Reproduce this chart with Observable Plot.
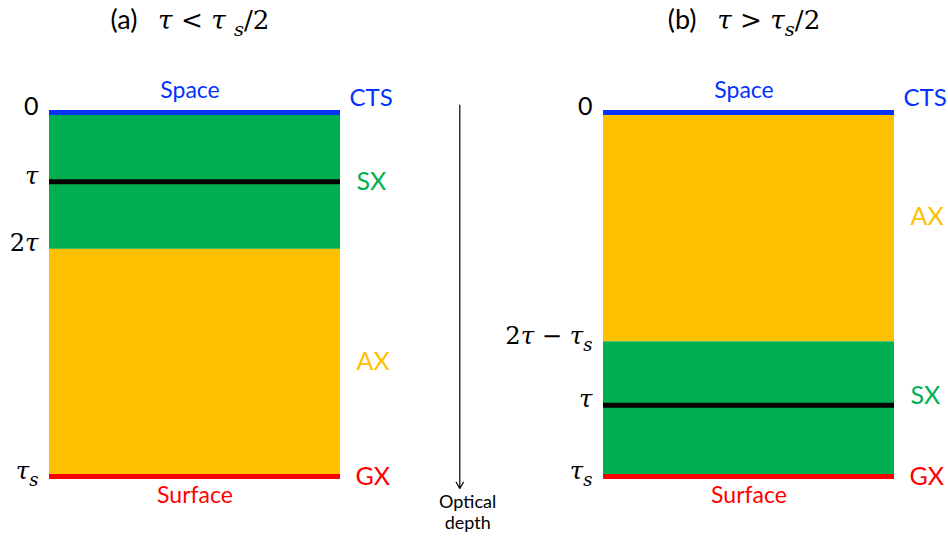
<!DOCTYPE html>
<html>
<head>
<meta charset="utf-8">
<script src="https://cdn.jsdelivr.net/npm/d3@7"></script>
<script src="https://cdn.jsdelivr.net/npm/@observablehq/plot@0.6"></script>
<style>
  body { margin: 0; background: #fff; }
  #chart svg { display: block; }
</style>
</head>
<body>
<div id="chart"></div>
<script>
// Optical depth is scaled so that the surface sits at τs = 1.
// Text between $…$ is set as math; _x makes x a subscript.
const panels = ["a", "b"];
const titles = ["(a)   $τ < τ _s/2$", "(b)   $τ > τ_s/2$"];

// Exchange layers of each column, with the depth of their name
const layerPanel = ["a", "a", "b", "b"];
const layerTop = [0, 0.376, 0, 0.63];
const layerBottom = [0.376, 1, 0.63, 1];
const layerKind = ["SX", "AX", "AX", "SX"];
const layerLabelDepth = [0.19, 0.686, 0.286, 0.78];

// Horizontal levels: top of atmosphere, level τ, surface
const levelPanel = ["a", "a", "a", "b", "b", "b"];
const levelDepth = [0, 0.19, 1, 0, 0.804, 1];
const levelKind = ["top", "tau", "surface", "top", "tau", "surface"];

// Depth labels on the left of each column
const tickPanel = ["a", "a", "a", "a", "b", "b", "b", "b"];
const tickDepth = [0, 0.19, 0.376, 1, 0, 0.63, 0.804, 1];
const tickText = ["0", "$τ$", "$2τ$", "$τ_s$", "0", "$2τ − τ_s$", "$τ$", "$τ_s$"];

// Boundary names
const topName = "Space", surfaceName = "Surface";
const topExchange = "CTS", surfaceExchange = "GX";

// Optical depth arrow between the columns (in column widths / depth units)
const arrowPanel = "a";
const arrowX = 1.41;
const arrowDepth = [-0.02, 1.033];
const arrowLabel = "Optical\ndepth";

const layers = layerPanel.map((p, i) => ({panel: p, top: layerTop[i], bottom: layerBottom[i], kind: layerKind[i], labelDepth: layerLabelDepth[i]}));
const levels = levelPanel.map((p, i) => ({panel: p, depth: levelDepth[i], kind: levelKind[i]}));
const ticks = tickPanel.map((p, i) => ({panel: p, depth: tickDepth[i], text: tickText[i]}));
const tops = levels.filter(d => d.kind === "top");
const surfaces = levels.filter(d => d.kind === "surface");
const arrow = [{panel: arrowPanel, x: arrowX, y1: arrowDepth[0], y2: arrowDepth[1]}];

const sans = "Lato, 'Noto Sans', sans-serif";
const serif = "'DejaVu Serif', 'Liberation Serif', serif";

const chart = Plot.plot({
  width: 948,
  height: 540,
  marginTop: 112,
  marginBottom: 64,
  marginLeft: 49,
  marginRight: 54,
  style: {fontFamily: sans, background: "#fff"},
  fx: {domain: panels, paddingInner: 0.475, paddingOuter: 0, axis: null},
  x: {domain: [0, 1], axis: null},
  y: {domain: [0, 1], reverse: true, axis: null},
  color: {
    domain: ["SX", "AX", "top", "tau", "surface"],
    range: ["#00B050", "#FFC000", "#0433FF", "#000000", "#FF0000"]
  },
  marks: [
    Plot.rect(layers, {fx: "panel", y1: "top", y2: "bottom", fill: "kind"}),
    Plot.ruleY(levels, {fx: "panel", y: "depth", stroke: "kind", strokeWidth: 5}),
    // column titles
    Plot.text(panels, {fx: d => d, text: (d, i) => titles[i], frameAnchor: "top", lineAnchor: "middle", dx: -5, dy: -92, fontSize: 27}),
    // depth labels
    Plot.text(ticks, {fx: "panel", y: "depth", text: "text", frameAnchor: "left", textAnchor: "end", dx: -11, dy: -6, fontSize: 25}),
    // exchange names on the right
    Plot.text(layers, {fx: "panel", y: "labelDepth", text: "kind", fill: "kind", frameAnchor: "right", textAnchor: "start", dx: 16, fontSize: 25}),
    Plot.text(tops, {fx: "panel", y: "depth", text: () => topExchange, fill: "kind", frameAnchor: "right", textAnchor: "start", dx: 9, dy: -14, fontSize: 24}),
    Plot.text(surfaces, {fx: "panel", y: "depth", text: () => surfaceExchange, fill: "kind", frameAnchor: "right", textAnchor: "start", dx: 15, fontSize: 25}),
    // boundary names
    Plot.text(tops, {fx: "panel", y: "depth", text: () => topName, fill: "kind", dx: -5, dy: -22, fontSize: 23}),
    Plot.text(surfaces, {fx: "panel", y: "depth", text: () => surfaceName, fill: "kind", dy: 19, fontSize: 23}),
    // optical depth arrow
    Plot.arrow(arrow, {fx: "panel", x1: "x", x2: "x", y1: "y1", y2: "y2", stroke: "#000", strokeWidth: 1.2, headLength: 9}),
    Plot.text(arrow, {fx: "panel", x: d => d.x + 0.027, y: "y2", text: () => arrowLabel, lineAnchor: "top", dy: 5, fontSize: 18, lineHeight: 1.16})
  ]
});

// Set $…$ segments in a serif math face with subscripts.
const svgNS = "http://www.w3.org/2000/svg";
for (const t of chart.querySelectorAll("text")) {
  const src = t.textContent;
  if (!src.includes("$")) continue;
  t.textContent = "";
  t.style.whiteSpace = "pre";
  let shift = 0;
  const add = (str, math, italic, sub) => {
    const s = document.createElementNS(svgNS, "tspan");
    s.textContent = str;
    if (math) s.setAttribute("font-family", serif);
    if (math) s.setAttribute("font-size", sub ? "0.72em" : "0.97em");
    if (italic) s.setAttribute("font-style", "italic");
    const target = sub ? 7 : 0;
    if (target !== shift) { s.setAttribute("dy", target - shift); shift = target; }
    t.appendChild(s);
  };
  src.split("$").forEach((part, i) => {
    if (!part) return;
    if (i % 2 === 0) { add(part, false, false, false); return; }
    for (let k = 0; k < part.length; k++) {
      let ch = part[k], sub = false;
      if (ch === "_") { sub = true; ch = part[++k]; }
      add(ch, true, /[A-Za-zα-ω]/.test(ch), sub);
    }
  });
}

document.getElementById("chart").appendChild(chart);
</script>
</body>
</html>
